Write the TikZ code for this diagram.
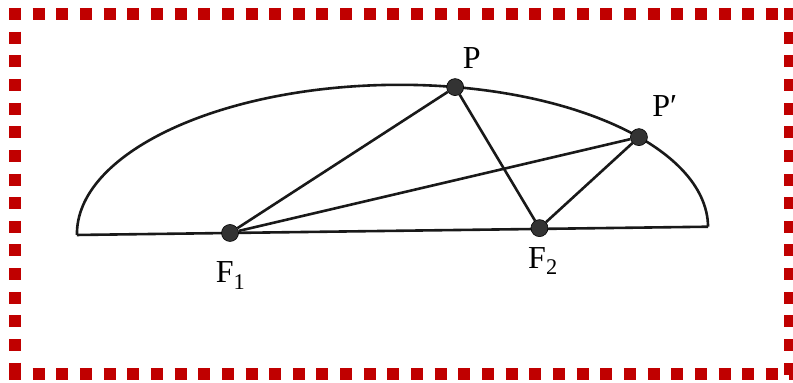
\documentclass[tikz,border=0pt]{standalone}
\usepackage{fontspec}
\setmainfont{Liberation Serif}
\usetikzlibrary{calc}
\definecolor{framered}{RGB}{192,0,0}
\tikzset{
  frame line/.style={
    draw=framered, line width=12pt,
    dash pattern=on 12pt off 11.65pt
  },
  curve line/.style={
    line width=2.6pt, draw=black!90
  },
  ellipse point/.style={
    circle, fill=black!80, draw=black, line width=0.6pt,
    inner sep=0pt, minimum size=17pt
  },
  point label/.style={
    anchor=base, font=\fontsize{32}{38}\selectfont
  },
}

\begin{document}
\begin{tikzpicture}[x=1pt, y=1pt]
  \useasboundingbox (0,0) rectangle (793,383);

  % red frame
  \draw[frame line] (9,369) -- (796,369);
  \draw[frame line] (9,9) -- (796,9);
  \draw[frame line] (15,375) -- (15,3);
  \draw[frame line] (790,375) -- (790,3);

  % half ellipse and its axis
  \begin{scope}[shift={(392.5,152.15)}, rotate=0.75]
    \draw[curve line] (-315.6,0) arc[start angle=180, end angle=0,
      x radius=315.6, y radius=146];
    \coordinate (A) at (-315.6,0);
    \coordinate (B) at (315.6,0);
    \draw[curve line] (A) -- (B);

    \node[ellipse point] (F1) at (-162.5,0) {};
    \node[ellipse point] (F2) at (147,0.8) {};
    \node[ellipse point] (P) at (78.2:315.6 and 146) {};
    \node[ellipse point] (P') at (38.3:315.6 and 146) {};
  \end{scope}

  % focal radii
  \draw[curve line] (F1) -- (P);
  \draw[curve line] (P) -- (F2);
  \draw[curve line] (F1) -- (P');
  \draw[curve line] (F2) -- (P');

  % labels
  \node[point label] (lP) at ($(P)+(16.5,19)$) {P};
  \node[point label] (lP') at ($(P')+(25.8,20.2)$) {P′};
  \node[point label] (lF1) at ($(F1)+(0.5,-50)$) {F\textsubscript{1}};
  \node[point label] (lF2) at ($(F2)+(3.5,-40)$) {F\textsubscript{2}};
\end{tikzpicture}
\end{document}
